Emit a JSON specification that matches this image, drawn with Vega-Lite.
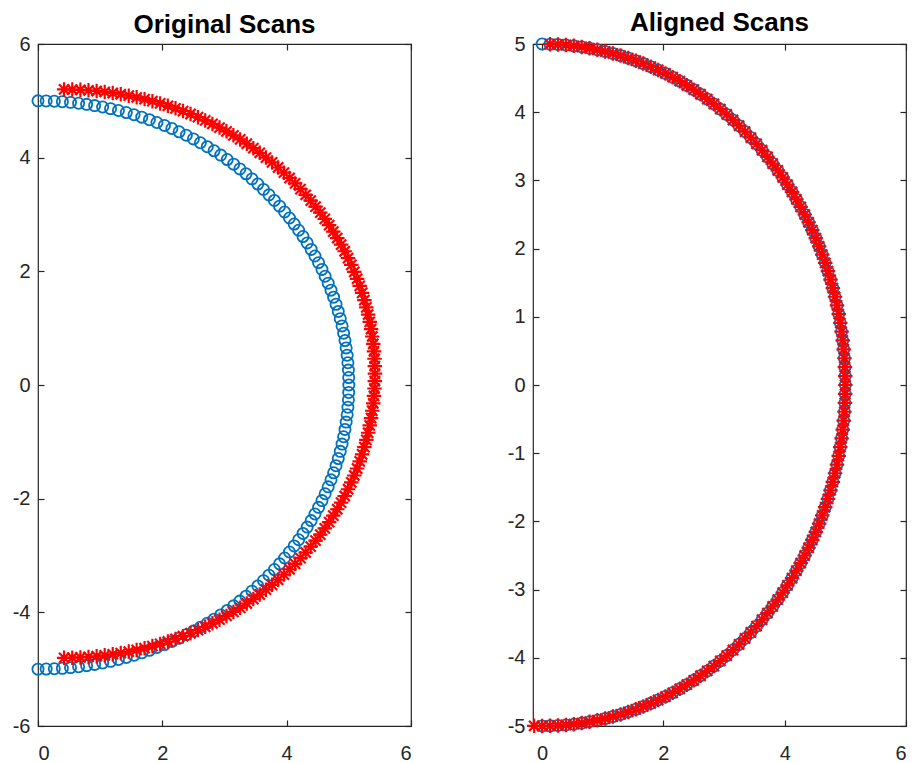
{
  "$schema": "https://vega.github.io/schema/vega-lite/v6.json",
  "padding": {"left": 11, "top": 9, "right": 5, "bottom": 0},
  "background": "white",
  "config": {
    "view": {"stroke": "#262626", "strokeWidth": 1.2},
    "font": "Liberation Sans",
    "axis": {"grid": false, "domain": false, "tickSize": -6, "tickColor": "#262626", "tickWidth": 1.2, "labelColor": "#262626", "labelFont": "Liberation Sans", "labelFontSize": 20, "labelPadding": 14, "title": null},
    "axisBottom": {"labelPadding": 23},
    "title": {"font": "Liberation Sans", "fontSize": 26, "fontWeight": "bold", "color": "#000000", "frame": "group", "anchor": "middle", "offset": -4}
  },
  "datasets": {
    "blue": [
      {"i":0,"x":0,"y":5},{"i":1,"x":0.131,"y":4.998},{"i":2,"x":0.262,"y":4.993},{"i":3,"x":0.392,"y":4.985},{"i":4,"x":0.523,"y":4.973},{"i":5,"x":0.653,"y":4.957},{"i":6,"x":0.782,"y":4.938},{"i":7,"x":0.911,"y":4.916},{"i":8,"x":1.040,"y":4.891},{"i":9,"x":1.167,"y":4.862},{"i":10,"x":1.294,"y":4.830},
      {"i":11,"x":1.420,"y":4.794},{"i":12,"x":1.545,"y":4.755},{"i":13,"x":1.669,"y":4.713},{"i":14,"x":1.792,"y":4.668},{"i":15,"x":1.913,"y":4.619},{"i":16,"x":2.034,"y":4.568},{"i":17,"x":2.153,"y":4.513},{"i":18,"x":2.270,"y":4.455},{"i":19,"x":2.386,"y":4.394},{"i":20,"x":2.500,"y":4.330},
      {"i":21,"x":2.612,"y":4.263},{"i":22,"x":2.723,"y":4.193},{"i":23,"x":2.832,"y":4.121},{"i":24,"x":2.939,"y":4.045},{"i":25,"x":3.044,"y":3.967},{"i":26,"x":3.147,"y":3.886},{"i":27,"x":3.247,"y":3.802},{"i":28,"x":3.346,"y":3.716},{"i":29,"x":3.442,"y":3.627},{"i":30,"x":3.536,"y":3.536},
      {"i":31,"x":3.627,"y":3.442},{"i":32,"x":3.716,"y":3.346},{"i":33,"x":3.802,"y":3.247},{"i":34,"x":3.886,"y":3.147},{"i":35,"x":3.967,"y":3.044},{"i":36,"x":4.045,"y":2.939},{"i":37,"x":4.121,"y":2.832},{"i":38,"x":4.193,"y":2.723},{"i":39,"x":4.263,"y":2.612},{"i":40,"x":4.330,"y":2.500},
      {"i":41,"x":4.394,"y":2.386},{"i":42,"x":4.455,"y":2.270},{"i":43,"x":4.513,"y":2.153},{"i":44,"x":4.568,"y":2.034},{"i":45,"x":4.619,"y":1.913},{"i":46,"x":4.668,"y":1.792},{"i":47,"x":4.713,"y":1.669},{"i":48,"x":4.755,"y":1.545},{"i":49,"x":4.794,"y":1.420},{"i":50,"x":4.830,"y":1.294},
      {"i":51,"x":4.862,"y":1.167},{"i":52,"x":4.891,"y":1.040},{"i":53,"x":4.916,"y":0.911},{"i":54,"x":4.938,"y":0.782},{"i":55,"x":4.957,"y":0.653},{"i":56,"x":4.973,"y":0.523},{"i":57,"x":4.985,"y":0.392},{"i":58,"x":4.993,"y":0.262},{"i":59,"x":4.998,"y":0.131},{"i":60,"x":5.000,"y":0},
      {"i":61,"x":4.998,"y":-0.131},{"i":62,"x":4.993,"y":-0.262},{"i":63,"x":4.985,"y":-0.392},{"i":64,"x":4.973,"y":-0.523},{"i":65,"x":4.957,"y":-0.653},{"i":66,"x":4.938,"y":-0.782},{"i":67,"x":4.916,"y":-0.911},{"i":68,"x":4.891,"y":-1.040},{"i":69,"x":4.862,"y":-1.167},{"i":70,"x":4.830,"y":-1.294},
      {"i":71,"x":4.794,"y":-1.420},{"i":72,"x":4.755,"y":-1.545},{"i":73,"x":4.713,"y":-1.669},{"i":74,"x":4.668,"y":-1.792},{"i":75,"x":4.619,"y":-1.913},{"i":76,"x":4.568,"y":-2.034},{"i":77,"x":4.513,"y":-2.153},{"i":78,"x":4.455,"y":-2.270},{"i":79,"x":4.394,"y":-2.386},{"i":80,"x":4.330,"y":-2.500},
      {"i":81,"x":4.263,"y":-2.612},{"i":82,"x":4.193,"y":-2.723},{"i":83,"x":4.121,"y":-2.832},{"i":84,"x":4.045,"y":-2.939},{"i":85,"x":3.967,"y":-3.044},{"i":86,"x":3.886,"y":-3.147},{"i":87,"x":3.802,"y":-3.247},{"i":88,"x":3.716,"y":-3.346},{"i":89,"x":3.627,"y":-3.442},{"i":90,"x":3.536,"y":-3.536},
      {"i":91,"x":3.442,"y":-3.627},{"i":92,"x":3.346,"y":-3.716},{"i":93,"x":3.247,"y":-3.802},{"i":94,"x":3.147,"y":-3.886},{"i":95,"x":3.044,"y":-3.967},{"i":96,"x":2.939,"y":-4.045},{"i":97,"x":2.832,"y":-4.121},{"i":98,"x":2.723,"y":-4.193},{"i":99,"x":2.612,"y":-4.263},{"i":100,"x":2.500,"y":-4.330},
      {"i":101,"x":2.386,"y":-4.394},{"i":102,"x":2.270,"y":-4.455},{"i":103,"x":2.153,"y":-4.513},{"i":104,"x":2.034,"y":-4.568},{"i":105,"x":1.913,"y":-4.619},{"i":106,"x":1.792,"y":-4.668},{"i":107,"x":1.669,"y":-4.713},{"i":108,"x":1.545,"y":-4.755},{"i":109,"x":1.420,"y":-4.794},{"i":110,"x":1.294,"y":-4.830},
      {"i":111,"x":1.167,"y":-4.862},{"i":112,"x":1.040,"y":-4.891},{"i":113,"x":0.911,"y":-4.916},{"i":114,"x":0.782,"y":-4.938},{"i":115,"x":0.653,"y":-4.957},{"i":116,"x":0.523,"y":-4.973},{"i":117,"x":0.392,"y":-4.985},{"i":118,"x":0.262,"y":-4.993},{"i":119,"x":0.131,"y":-4.998},{"i":120,"x":0,"y":-5},
      {"i":121,"x":-0.131,"y":-4.998}
    ],
    "redL": [
      {"x":0.420,"y":5.200},{"x":0.551,"y":5.198},{"x":0.682,"y":5.193},{"x":0.812,"y":5.185},{"x":0.943,"y":5.173},{"x":1.073,"y":5.157},{"x":1.202,"y":5.138},{"x":1.331,"y":5.116},{"x":1.460,"y":5.091},{"x":1.587,"y":5.062},{"x":1.714,"y":5.030},
      {"x":1.840,"y":4.994},{"x":1.965,"y":4.955},{"x":2.089,"y":4.913},{"x":2.212,"y":4.868},{"x":2.333,"y":4.819},{"x":2.454,"y":4.768},{"x":2.573,"y":4.713},{"x":2.690,"y":4.655},{"x":2.806,"y":4.594},{"x":2.920,"y":4.530},
      {"x":3.032,"y":4.463},{"x":3.143,"y":4.393},{"x":3.252,"y":4.321},{"x":3.359,"y":4.245},{"x":3.464,"y":4.167},{"x":3.567,"y":4.086},{"x":3.667,"y":4.002},{"x":3.766,"y":3.916},{"x":3.862,"y":3.827},{"x":3.956,"y":3.736},
      {"x":4.047,"y":3.642},{"x":4.136,"y":3.546},{"x":4.222,"y":3.447},{"x":4.306,"y":3.347},{"x":4.387,"y":3.244},{"x":4.465,"y":3.139},{"x":4.541,"y":3.032},{"x":4.613,"y":2.923},{"x":4.683,"y":2.812},{"x":4.750,"y":2.700},
      {"x":4.814,"y":2.586},{"x":4.875,"y":2.470},{"x":4.933,"y":2.353},{"x":4.988,"y":2.234},{"x":5.039,"y":2.113},{"x":5.088,"y":1.992},{"x":5.133,"y":1.869},{"x":5.175,"y":1.745},{"x":5.214,"y":1.620},{"x":5.250,"y":1.494},
      {"x":5.282,"y":1.367},{"x":5.311,"y":1.240},{"x":5.336,"y":1.111},{"x":5.358,"y":0.982},{"x":5.377,"y":0.853},{"x":5.393,"y":0.723},{"x":5.405,"y":0.592},{"x":5.413,"y":0.462},{"x":5.418,"y":0.331},{"x":5.420,"y":0.200},
      {"x":5.418,"y":0.069},{"x":5.413,"y":-0.062},{"x":5.405,"y":-0.192},{"x":5.393,"y":-0.323},{"x":5.377,"y":-0.453},{"x":5.358,"y":-0.582},{"x":5.336,"y":-0.711},{"x":5.311,"y":-0.840},{"x":5.282,"y":-0.967},{"x":5.250,"y":-1.094},
      {"x":5.214,"y":-1.220},{"x":5.175,"y":-1.345},{"x":5.133,"y":-1.469},{"x":5.088,"y":-1.592},{"x":5.039,"y":-1.713},{"x":4.988,"y":-1.834},{"x":4.933,"y":-1.953},{"x":4.875,"y":-2.070},{"x":4.814,"y":-2.186},{"x":4.750,"y":-2.300},
      {"x":4.683,"y":-2.412},{"x":4.613,"y":-2.523},{"x":4.541,"y":-2.632},{"x":4.465,"y":-2.739},{"x":4.387,"y":-2.844},{"x":4.306,"y":-2.947},{"x":4.222,"y":-3.047},{"x":4.136,"y":-3.146},{"x":4.047,"y":-3.242},{"x":3.956,"y":-3.336},
      {"x":3.862,"y":-3.427},{"x":3.766,"y":-3.516},{"x":3.667,"y":-3.602},{"x":3.567,"y":-3.686},{"x":3.464,"y":-3.767},{"x":3.359,"y":-3.845},{"x":3.252,"y":-3.921},{"x":3.143,"y":-3.993},{"x":3.032,"y":-4.063},{"x":2.920,"y":-4.130},
      {"x":2.806,"y":-4.194},{"x":2.690,"y":-4.255},{"x":2.573,"y":-4.313},{"x":2.454,"y":-4.368},{"x":2.333,"y":-4.419},{"x":2.212,"y":-4.468},{"x":2.089,"y":-4.513},{"x":1.965,"y":-4.555},{"x":1.840,"y":-4.594},{"x":1.714,"y":-4.630},
      {"x":1.587,"y":-4.662},{"x":1.460,"y":-4.691},{"x":1.331,"y":-4.716},{"x":1.202,"y":-4.738},{"x":1.073,"y":-4.757},{"x":0.943,"y":-4.773},{"x":0.812,"y":-4.785},{"x":0.682,"y":-4.793},{"x":0.551,"y":-4.798},{"x":0.420,"y":-4.800}
    ]
  },
  "bounds": "flush",
  "spacing": 122,
  "hconcat": [
    {
      "width": 373,
      "height": 682,
      "title": "Original Scans",
      "resolve": {"axis": {"x": "independent", "y": "independent"}},
      "layer": [
        {
          "data": {"name": "blue"},
          "transform": [{"filter": "datum.i <= 120"}],
          "mark": {"type": "point", "shape": "circle", "filled": false, "stroke": "#0072BD", "size": 125, "strokeWidth": 1.8, "opacity": 1},
          "encoding": {
            "x": {"field": "x", "type": "quantitative", "scale": {"domain": [0, 6], "nice": false, "zero": false}, "axis": {"orient": "bottom", "values": [0, 2, 4, 6], "labelExpr": "datum.value < 0 ? '-' + abs(datum.value) : '' + datum.value"}},
            "y": {"field": "y", "type": "quantitative", "scale": {"domain": [-6, 6], "nice": false, "zero": false}, "axis": {"orient": "left", "values": [-6, -4, -2, 0, 2, 4, 6], "labelExpr": "datum.value < 0 ? '-' + abs(datum.value) : '' + datum.value"}}
          }
        },
        {
          "data": {"name": "redL"},
          "mark": {"type": "point", "shape": "M-1,0L1,0M0,-1L0,1M-0.7071,-0.7071L0.7071,0.7071M-0.7071,0.7071L0.7071,-0.7071", "filled": false, "stroke": "#FF0000", "size": 210, "strokeWidth": 2.2, "opacity": 1},
          "encoding": {
            "x": {"field": "x", "type": "quantitative", "axis": null},
            "y": {"field": "y", "type": "quantitative", "axis": null}
          }
        },
        {
          "data": {"name": "blue"},
          "mark": {"type": "point", "opacity": 0},
          "encoding": {
            "x": {"field": "x", "type": "quantitative", "axis": {"orient": "top", "values": [0, 2, 4, 6], "labels": false}},
            "y": {"field": "y", "type": "quantitative", "axis": {"orient": "right", "values": [-6, -4, -2, 0, 2, 4, 6], "labels": false}}
          }
        }
      ]
    },
    {
      "width": 373,
      "height": 682,
      "title": "Aligned Scans",
      "resolve": {"axis": {"x": "independent", "y": "independent"}},
      "layer": [
        {
          "data": {"name": "blue"},
          "transform": [{"filter": "datum.i <= 120"}],
          "mark": {"type": "point", "shape": "circle", "filled": false, "stroke": "#0072BD", "size": 125, "strokeWidth": 1.8, "opacity": 1},
          "encoding": {
            "x": {"field": "x", "type": "quantitative", "scale": {"domain": [-0.15, 6], "nice": false, "zero": false}, "axis": {"orient": "bottom", "values": [0, 2, 4, 6], "labelExpr": "datum.value < 0 ? '-' + abs(datum.value) : '' + datum.value"}},
            "y": {"field": "y", "type": "quantitative", "scale": {"domain": [-5, 5], "nice": false, "zero": false}, "axis": {"orient": "left", "values": [-5, -4, -3, -2, -1, 0, 1, 2, 3, 4, 5], "labelExpr": "datum.value < 0 ? '-' + abs(datum.value) : '' + datum.value"}}
          }
        },
        {
          "data": {"name": "blue"},
          "transform": [{"filter": "datum.i >= 1"}],
          "mark": {"type": "point", "shape": "M-1,0L1,0M0,-1L0,1M-0.7071,-0.7071L0.7071,0.7071M-0.7071,0.7071L0.7071,-0.7071", "filled": false, "stroke": "#FF0000", "size": 210, "strokeWidth": 2.2, "opacity": 1},
          "encoding": {
            "x": {"field": "x", "type": "quantitative", "axis": null},
            "y": {"field": "y", "type": "quantitative", "axis": null}
          }
        },
        {
          "data": {"name": "blue"},
          "mark": {"type": "point", "opacity": 0},
          "encoding": {
            "x": {"field": "x", "type": "quantitative", "axis": {"orient": "top", "values": [0, 2, 4, 6], "labels": false}},
            "y": {"field": "y", "type": "quantitative", "axis": {"orient": "right", "values": [-5, -4, -3, -2, -1, 0, 1, 2, 3, 4, 5], "labels": false}}
          }
        }
      ]
    }
  ]
}
